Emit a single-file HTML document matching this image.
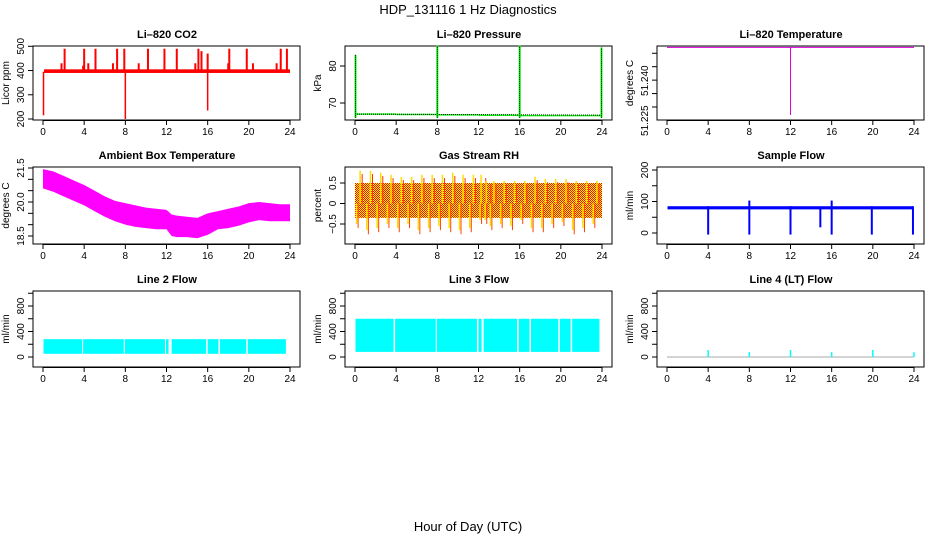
<!DOCTYPE html>
<html><head><meta charset="utf-8">
<style>
html,body{margin:0;padding:0;background:#fff;}
svg{display:block;font-family:"Liberation Sans",sans-serif;}
.t{font-size:11px;font-weight:bold;text-anchor:middle;}
.k{font-size:10px;text-anchor:middle;}
</style></head>
<body>
<svg id="c" width="936" height="540" viewBox="0 0 936 540">
<defs>
<pattern id="rh" width="2" height="2" patternUnits="userSpaceOnUse">
<rect width="2" height="2" fill="#ffff00"/><rect width="1" height="1" fill="#ff0000"/><rect x="1" y="1" width="1" height="1" fill="#ff0000"/>
</pattern>
</defs>
<text x="468" y="14" font-size="13" text-anchor="middle">HDP_131116  1 Hz Diagnostics</text>
<text x="468" y="531" font-size="13" text-anchor="middle">Hour of Day (UTC)</text>
</svg>
<script>
// ---- data ----
var xTicks=[0,4,8,12,16,20,24];
var co2Spikes=[1.8,2.1,3.9,4.0,4.4,5.1,6.8,7.2,7.9,9.3,10.2,11.8,13.0,14.8,15.1,15.4,16.0,18.0,18.1,19.8,20.4,22.7,23.1,23.7];
var co2SpikeTop=[430,490,420,490,430,490,430,490,490,430,490,490,490,430,490,480,470,430,490,490,430,430,490,490];
var co2Dips=[0.05,8.0,16.0];
var co2DipLow=[215,200,235];
var presSpikes=[0.05,8.0,16.0,23.95];
var presTop=[83,85.5,85.5,85];
var presBase=[67.0,66.9,66.8,66.7,66.6,66.6,66.7];
var tempLevel=51.2472, tempDipHour=12, tempDipLow=51.222;
var ambHours=[0,1,2,3,4,5,6,7,8,9,10,11,12,12.5,13,14,15,16,17,18,19,20,21,22,23,24];
var ambHi=[21.45,21.35,21.15,20.95,20.75,20.5,20.25,20.05,19.95,19.85,19.75,19.7,19.65,19.45,19.4,19.35,19.3,19.5,19.6,19.7,19.8,19.95,20.0,19.95,19.9,19.9];
var ambLo=[20.6,20.45,20.25,20.05,19.85,19.6,19.35,19.15,19.0,18.9,18.85,18.8,18.8,18.5,18.45,18.45,18.4,18.55,18.8,18.85,18.95,19.1,19.2,19.15,19.15,19.15];
var rhHours=[0,1,2,3,4,5,6,7,8,9,10,11,12,12.5,13,14,15,16,17,18,19,20,21,22,23,24];
var rhHi=[0.8,0.8,0.75,0.7,0.65,0.65,0.7,0.7,0.7,0.75,0.7,0.7,0.7,0.55,0.55,0.55,0.55,0.55,0.65,0.6,0.6,0.6,0.55,0.55,0.55,0.5];
var rhLo=[-0.6,-0.75,-0.7,-0.6,-0.7,-0.6,-0.75,-0.7,-0.65,-0.7,-0.75,-0.7,-0.5,-0.5,-0.65,-0.6,-0.65,-0.5,-0.7,-0.7,-0.6,-0.55,-0.75,-0.7,-0.6,-0.5];
var sfDips=[4.0,8.0,12.0,14.9,16.0,19.9,23.9];
var sfDipLow=[-5,-5,-5,18,-5,-5,-5];
var sfSpikeTop=[85,103,85,80,103,85,85];
var l2Starts=[0.05,3.9,7.95,11.95,12.5,16.0,17.2,19.9];
var l2Ends=[3.8,7.85,11.85,12.2,15.85,17.05,19.75,23.6];
var l2Lo=50, l2Hi=280;
var l3Starts=[0.05,3.9,7.95,12.0,12.5,15.9,17.1,19.9,21.1];
var l3Ends=[3.75,7.85,11.85,12.3,15.75,16.95,19.75,20.95,23.75];
var l3Lo=80, l3Hi=600;
var l4Spikes=[4,8,12,16,20,24];
var l4Top=[110,75,110,75,110,75];

var svg=document.getElementById('c');
var NS='http://www.w3.org/2000/svg';
function el(tag,attrs,parent){var e=document.createElementNS(NS,tag);for(var k in attrs)e.setAttribute(k,attrs[k]);(parent||svg).appendChild(e);return e;}

var colX=[43,355,667], rowBox=[[46,120],[167,244],[291,367]];
function panel(name,title,ylab,col,row,v0,p0,v1,p1,yticks,ylabels){
  var g=el('g',{});
  
  
  var x0=colX[col], top=rowBox[row][0], bot=rowBox[row][1];
  var P={g:g,sx:function(h){return x0+h*247/24;},sy:function(v){return p0+(v-v0)*(p1-p0)/(v1-v0);},top:top,bot:bot,x0:x0};
  var tt=el('text',{x:x0+124,y:top-8,'class':'t'},g);tt.textContent=title;
  
  
  var yl=el('text',{x:0,y:0,'class':'k',transform:'translate('+(x0-34)+','+((top+bot)/2)+') rotate(-90)'},g);yl.textContent=ylab;
  
  
  var fr=el('rect',{x:x0-10,y:top,width:267,height:bot-top,fill:'none',stroke:'#000','stroke-width':1},g);
  
  
  xTicks.forEach(function(t){var x=P.sx(t);el('line',{x1:x,x2:x,y1:bot,y2:bot+5,stroke:'#000'},g);
    var tx=el('text',{x:x,y:bot+15,'class':'k'},g);tx.textContent=t;
    
    });
  el('line',{x1:P.sx(0),x2:P.sx(24),y1:bot+0.5,y2:bot+0.5,stroke:'#000'},g);
  yticks.forEach(function(t,i){var y=P.sy(t);el('line',{x1:x0-10,x2:x0-15,y1:y,y2:y,stroke:'#000'},g);
    if(ylabels[i]!==''){var ty=el('text',{x:0,y:0,'class':'k',transform:'translate('+(x0-19)+','+y+') rotate(-90)'},g);ty.textContent=ylabels[i];
    
    }});
  P.data=el('g',{},g);
  return P;
}
function band(P,h0,h1,lo,hi,fill){var r=el('rect',{x:P.sx(h0),y:P.sy(hi),width:Math.max(1,P.sx(h1)-P.sx(h0)),height:P.sy(lo)-P.sy(hi),fill:fill},P.data);
  
  return r;}
function vline(P,h,a,b,col,w){var l=el('line',{x1:P.sx(h),x2:P.sx(h),y1:P.sy(a),y2:P.sy(b),stroke:col,'stroke-width':w||1},P.data);
  
  return l;}
function area(P,hs,lo,hi,fill){var pts=[];hs.forEach(function(h,i){pts.push(P.sx(h)+','+P.sy(hi[i]));});
  for(var i=hs.length-1;i>=0;i--)pts.push(P.sx(hs[i])+','+P.sy(lo[i]));
  var a=el('polygon',{points:pts.join(' '),fill:fill},P.data);
  
  return a;}

// CO2
var p=panel('co2-panel','Li\u2013820 CO2','Licor ppm',0,0,200,119,500,46.3,[200,300,400,500],['200','300','400','500']);
band(p,0.1,24,390,405,'#ff0000');
co2Spikes.forEach(function(h,i){vline(p,h,395,co2SpikeTop[i],'#ff0000',2);});
co2Dips.forEach(function(h,i){vline(p,h,395,co2DipLow[i],'#ff0000',1.5);});
// Pressure
p=panel('pressure-panel','Li\u2013820 Pressure','kPa',1,0,70,103,80,66,[70,80],['70','80']);
presBase.forEach(function(v,i){if(i<presBase.length-1)band(p,i*4,(i+1)*4,v-0.2,v+0.2,'#00ff00');});
el('line',{x1:p.sx(0),x2:p.sx(24),y1:p.sy(67),y2:p.sy(66.7),stroke:'#000','stroke-dasharray':'1,1'},p.data);
presSpikes.forEach(function(h,i){vline(p,h,66,presTop[i],'#00ff00',2);var d=vline(p,h,66,presTop[i],'#000',1);d.setAttribute('stroke-dasharray','1,1');});
// Temperature
p=panel('li820-temp-panel','Li\u2013820 Temperature','degrees C',2,0,51.225,107,51.240,66.7,[51.225,51.230,51.235,51.240,51.245],['','','','','']);
[['51.225',120.7],['51.240',80.7]].forEach(function(a){var t=el('text',{x:0,y:0,'class':'k',transform:'translate('+(p.x0-19)+','+a[1]+') rotate(-90)'},p.g);t.textContent=a[0];
  
  });
el('line',{x1:p.sx(0),x2:p.sx(24),y1:p.sy(tempLevel),y2:p.sy(tempLevel),stroke:'#dd00dd'},p.data);
vline(p,tempDipHour,tempLevel,tempDipLow,'#dd00dd',1);
// Ambient
p=panel('ambient-temp-panel','Ambient Box Temperature','degrees C',0,1,21.5,168,18.5,236,[18.5,19,19.5,20,20.5,21,21.5],['18.5','','','20.0','','','21.5']);
area(p,ambHours,ambLo,ambHi,'#ff00ff');
// RH
p=panel('gas-rh-panel','Gas Stream RH','percent',1,1,0.5,183,-0.5,224,[-0.5,0,0.5],['\u22120.5','0','0.5']);
band(p,0,24,-0.35,0.5,'url(#rh)');
rhHours.forEach(function(h,i){if(i<rhHours.length-1){vline(p,(h+rhHours[i+1])/2,0,rhHi[i],'#ffdd00',1.5);vline(p,h+0.3,0,rhLo[i],'#ff4400',1);vline(p,h+0.7,0,rhHi[i]-0.08,'#ff3300',1);vline(p,h+0.15,0,rhLo[i]+0.1,'#ffdd00',1.5);}});
// Sample flow
p=panel('sample-flow-panel','Sample Flow','ml/min',2,1,0,233,200,170,[0,50,100,150,200],['0','','100','','200']);
band(p,0.05,23.9,75,85,'#0000ff');
sfDips.forEach(function(h,i){vline(p,h,sfSpikeTop[i],sfDipLow[i],'#0000ff',2);});
// Line 2
p=panel('line2-flow-panel','Line 2 Flow','ml/min',0,2,0,357,800,306,[0,200,400,600,800,1000],['0','','400','','800','']);
l2Starts.forEach(function(s,i){band(p,s,l2Ends[i],l2Lo,l2Hi,'#00ffff');});
// Line 3
p=panel('line3-flow-panel','Line 3 Flow','ml/min',1,2,0,357,800,306,[0,200,400,600,800,1000],['0','','400','','800','']);
l3Starts.forEach(function(s,i){band(p,s,l3Ends[i],l3Lo,l3Hi,'#00ffff');});
// Line 4
p=panel('line4-flow-panel','Line 4 (LT) Flow','ml/min',2,2,0,357,800,306,[0,200,400,600,800,1000],['0','','400','','800','']);
el('line',{x1:p.sx(0),x2:p.sx(24),y1:p.sy(0),y2:p.sy(0),stroke:'#aaaaaa'},p.data);
l4Spikes.forEach(function(h,i){vline(p,h,0,l4Top[i],'#00ffff',1.5);});
</script>
</body></html>
